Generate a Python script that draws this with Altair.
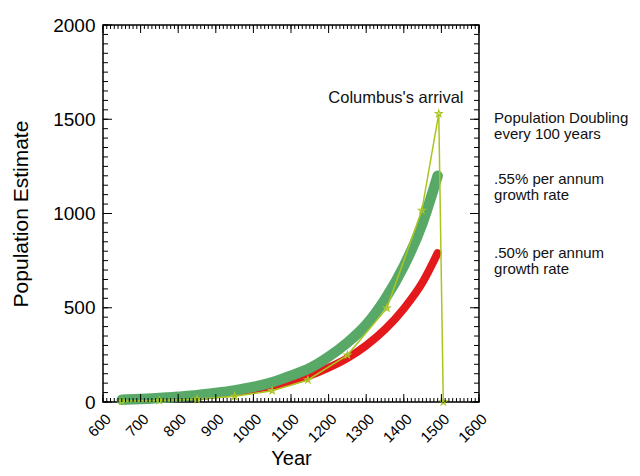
import altair as alt
import pandas as pd

# ---- data ----
years = [650, 700, 750, 800, 850, 900, 950, 1000, 1050, 1100, 1150, 1200,
         1250, 1300, 1350, 1400, 1450, 1490]
growth_055 = [12, 16, 21, 28, 36, 48, 62, 80, 105, 140, 180, 240,
              315, 410, 545, 720, 950, 1200]
growth_050 = [12, 15, 19, 25, 32, 41, 52, 67, 86, 110, 140, 182,
              233, 300, 385, 495, 635, 790]

doubling_years = [650, 750, 850, 950, 1050, 1145, 1250, 1355, 1448, 1493, 1505]
doubling_values = [4, 8, 15, 30, 60, 117, 249, 498, 1017, 1530, 0]

x_major = list(range(600, 1601, 100))
x_minor = list(range(600, 1601, 10))
y_major = list(range(0, 2001, 500))
y_minor = list(range(0, 2001, 50))

ann_text = ["Columbus's arrival"]
ann_year = [1379]
ann_value = [1613]

side_text = ["Population Doubling\nevery 100 years",
             ".55% per annum\ngrowth rate",
             ".50% per annum\ngrowth rate"]
side_year = [1640, 1640, 1640]
side_value = [1507, 1183, 791]

# ---- styling ----
FONT = "Liberation Sans"
GREEN = "#58a968"
RED = "#e3191c"
YELLOW = "#a9c523"
W, H = 376, 377
STAR = ("M0,-1L0.2245,-0.309L0.9511,-0.309L0.3633,0.118L0.5878,0.809"
        "L0,0.382L-0.5878,0.809L-0.3633,0.118L-0.9511,-0.309L-0.2245,-0.309Z")

df_green = pd.DataFrame({"year": years, "pop": growth_055})
df_red = pd.DataFrame({"year": years, "pop": growth_050})
df_double = pd.DataFrame({"year": doubling_years, "pop": doubling_values})
df_ann = pd.DataFrame({"year": ann_year, "pop": ann_value, "label": ann_text})
df_side = pd.DataFrame({"year": side_year, "pop": side_value, "label": side_text})
df_xmin = pd.DataFrame({"year": x_minor})
df_xmaj = pd.DataFrame({"year": x_major})
df_ymin = pd.DataFrame({"pop": y_minor})
df_ymaj = pd.DataFrame({"pop": y_major})

xs = alt.Scale(domain=[600, 1600], nice=False, zero=False)
ys = alt.Scale(domain=[0, 2000], nice=False)

main_x = alt.Axis(title="Year", values=x_major, format="d", labelAngle=-45,
                  ticks=False, domain=False, grid=False, labelFontSize=15,
                  titleFontSize=20, labelPadding=9, titlePadding=3,
                  labelFont=FONT, titleFont=FONT, titleFontWeight="normal",
                  labelColor="black", titleColor="black", labelFlush=False,
                  labelOverlap=False)
main_y = alt.Axis(title="Population Estimate", values=y_major, format="d",
                  ticks=False, domain=False, grid=False, labelFontSize=19,
                  titleFontSize=21, labelPadding=8, titlePadding=21,
                  labelFont=FONT, titleFont=FONT, titleFontWeight="normal",
                  labelColor="black", titleColor="black", labelFlush=False,
                  labelOverlap=False)

X = alt.X("year:Q", scale=xs, axis=main_x)
Y = alt.Y("pop:Q", scale=ys, axis=main_y)

red = alt.Chart(df_red).mark_line(
    color=RED, strokeWidth=8, strokeCap="round", interpolate="monotone"
).encode(x=X, y=Y)

green = alt.Chart(df_green).mark_line(
    color=GREEN, strokeWidth=10.5, strokeCap="round", interpolate="monotone"
).encode(x=X, y=Y)

yellow_line = alt.Chart(df_double).mark_line(
    color=YELLOW, strokeWidth=1.5
).encode(x=X, y=Y)

yellow_pts = alt.Chart(df_double).mark_point(
    shape=STAR, size=50, filled=False, color=YELLOW, strokeWidth=1.1,
    opacity=1
).encode(x=X, y=Y)

ann = alt.Chart(df_ann).mark_text(
    font=FONT, fontSize=16.5, color="#111111", align="center", baseline="middle"
).encode(x=X, y=Y, text="label:N")

side = alt.Chart(df_side).mark_text(
    font=FONT, fontSize=15, color="#111111", align="left", baseline="middle",
    lineBreak="\n", lineHeight=16
).encode(x=X, y=Y, text="label:N")


def xtick(df, y0, y1):
    return alt.Chart(df).mark_rule(color="black", strokeWidth=1).encode(
        x=X, y=alt.value(y0), y2=alt.value(y1))


def ytick(df, x0, x1):
    return alt.Chart(df).mark_rule(color="black", strokeWidth=1).encode(
        y=Y, x=alt.value(x0), x2=alt.value(x1))


ticks = [
    xtick(df_xmin, H - 4, H), xtick(df_xmaj, H - 8, H),
    xtick(df_xmin, 0, 4), xtick(df_xmaj, 0, 8),
    ytick(df_ymin, 0, 5), ytick(df_ymaj, 0, 9),
    ytick(df_ymin, W - 5, W), ytick(df_ymaj, W - 9, W),
]

chart = alt.layer(
    red, green, yellow_line, yellow_pts, ann, side, *ticks,
).properties(
    width=W, height=H,
    autosize=alt.AutoSizeParams(type="none"),
    padding={"left": 95, "top": 17, "right": 151, "bottom": 68},
    background="white",
).configure_view(
    stroke="black", strokeWidth=1.5, clip=False
)

chart.save("out.html", embed_options={"renderer": "svg", "actions": False})
